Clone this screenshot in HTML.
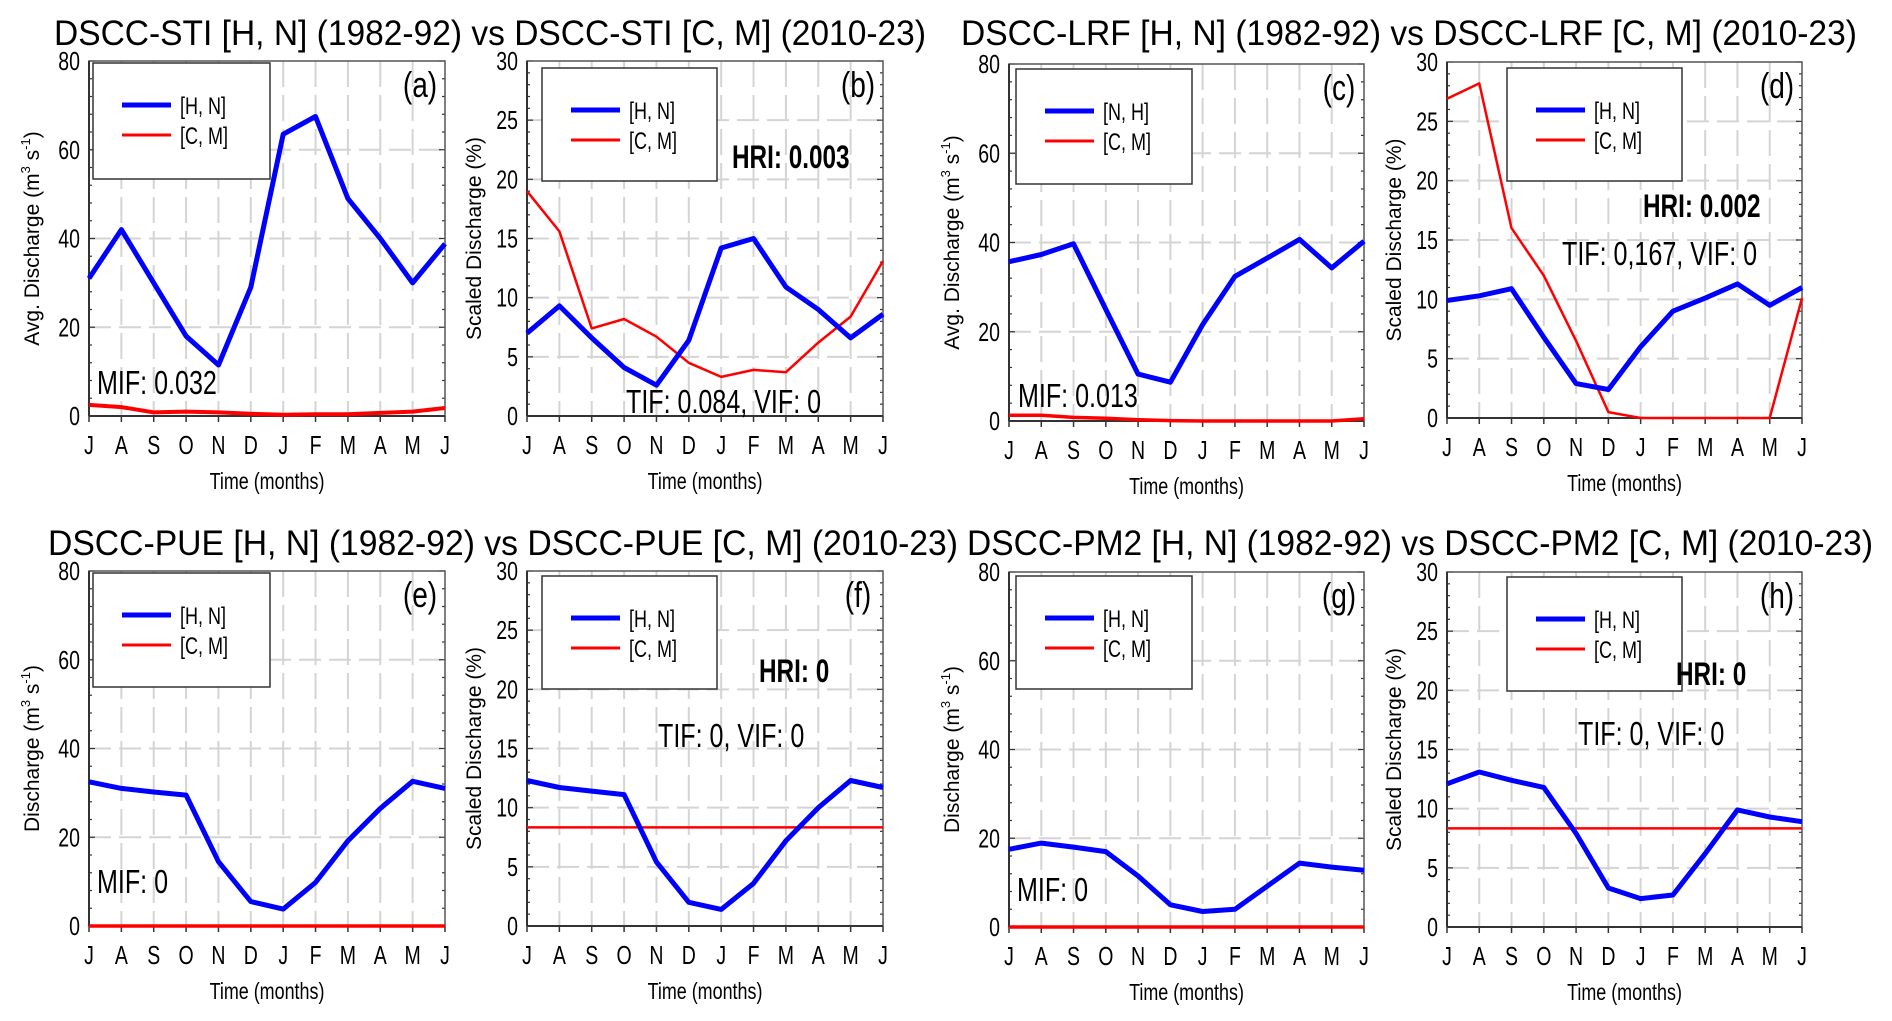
<!DOCTYPE html>
<html><head><meta charset="utf-8">
<style>
html,body{margin:0;padding:0;background:#fff;}
svg{display:block;font-family:"Liberation Sans",Arial,sans-serif;}
</style></head>
<body>
<svg id="fig" width="1892" height="1021" viewBox="0 0 1892 1021" xmlns="http://www.w3.org/2000/svg"></svg>
<script>
const months = ["J","A","S","O","N","D","J","F","M","A","M","J"];
const hnA = [31,42,30,18,11.5,29,63.5,67.5,49,40,30,38.8];
const cmA = [2.5,2,0.8,1,0.8,0.5,0.3,0.4,0.4,0.7,1,1.8];
const hnB = [7,9.3,6.6,4.1,2.6,6.4,14.2,15,10.9,9,6.6,8.6];
const cmB = [19,15.6,7.4,8.2,6.7,4.5,3.3,3.9,3.7,6.2,8.4,13.1];
const hnC = [35.7,37.3,39.7,25,10.5,8.7,21.6,32.4,36.5,40.7,34.3,40.3];
const cmC = [1.3,1.3,0.8,0.6,0.3,0.1,0,0,0,0,0,0.5];
const hnD = [9.9,10.3,10.9,6.8,2.9,2.4,6,9,10.1,11.3,9.5,11];
const cmD = [26.9,28.2,16,12,6.5,0.5,0,0,0,0,0,10.1];
const hnE = [32.5,31,30.2,29.5,14.5,5.5,3.8,9.8,19.2,26.5,32.6,31];
const cmE = [0,0,0,0,0,0,0,0,0,0,0,0];
const hnF = [12.3,11.7,11.4,11.1,5.4,2,1.4,3.6,7.2,10,12.3,11.7];
const cmF = [8.33,8.33,8.33,8.33,8.33,8.33,8.33,8.33,8.33,8.33,8.33,8.33];
const hnG = [17.5,18.9,18,17,11.5,5,3.5,4,9.2,14.4,13.5,12.8];
const cmG = [0,0,0,0,0,0,0,0,0,0,0,0];
const hnH = [12.1,13.1,12.4,11.8,7.9,3.3,2.4,2.7,6.2,9.9,9.3,8.9];
const cmH = [8.33,8.33,8.33,8.33,8.33,8.33,8.33,8.33,8.33,8.33,8.33,8.33];
const ticksDischarge = [0,20,40,60,80];
const ticksScaled = [0,5,10,15,20,25,30];

const NS="http://www.w3.org/2000/svg";
const svg=document.getElementById('fig');
function mk(tag,attrs,parent){const e=document.createElementNS(NS,tag);for(const k in attrs)e.setAttribute(k,attrs[k]);(parent||svg).appendChild(e);return e;}
function txt(str,x,y,size,opts,parent){
  opts=opts||{};
  const g=mk('g',{transform:`translate(${x},${y}) scale(${opts.sx||0.8},1)`},parent);
  const t=mk('text',{x:0,y:0,'font-size':size,'text-anchor':opts.anchor||'start',fill:opts.fill||'#000','font-weight':opts.bold?'bold':'normal'},g);
  t.textContent=str;return t;
}

const panels=[
 {id:'a',L:89,R:445,T:61,B:416,hn:hnA,cm:cmA,max:80,ticks:ticksDischarge,ylab:'Avg. Discharge (m',leg:[93,63,270,179],names:['[H, N]','[C, M]'],ann:[['MIF: 0.032',97,394,false]],cmw:4},
 {id:'b',L:527,R:883,T:61,B:416,hn:hnB,cm:cmB,max:30,ticks:ticksScaled,ylab:'Scaled Discharge (%)',leg:[542,68,717,181],names:['[H, N]','[C, M]'],ann:[['HRI: 0.003',732,168,true],['TIF: 0.084, VIF: 0',626,413,false]],cmw:2.5},
 {id:'c',L:1009,R:1364,T:64,B:421,hn:hnC,cm:cmC,max:80,ticks:ticksDischarge,ylab:'Avg. Discharge (m',leg:[1016,69,1192,184],names:['[N, H]','[C, M]'],ann:[['MIF: 0.013',1018,407,false]],cmw:3.5},
 {id:'d',L:1447,R:1802,T:62,B:418,hn:hnD,cm:cmD,max:30,ticks:ticksScaled,ylab:'Scaled Discharge (%)',leg:[1507,68,1682,181],names:['[H, N]','[C, M]'],ann:[['HRI: 0.002',1643,217,true],['TIF: 0,167, VIF: 0',1562,265,false]],cmw:2.5},
 {id:'e',L:89,R:445,T:571,B:926,hn:hnE,cm:cmE,max:80,ticks:ticksDischarge,ylab:'Discharge (m',leg:[93,573,270,687],names:['[H, N]','[C, M]'],ann:[['MIF: 0',97,893,false]],cmw:3.5},
 {id:'f',L:527,R:883,T:571,B:926,hn:hnF,cm:cmF,max:30,ticks:ticksScaled,ylab:'Scaled Discharge (%)',leg:[542,576,717,689],names:['[H, N]','[C, M]'],ann:[['HRI: 0',759,682,true],['TIF: 0, VIF: 0',658,747,false]],cmw:2.5},
 {id:'g',L:1009,R:1364,T:572,B:927,hn:hnG,cm:cmG,max:80,ticks:ticksDischarge,ylab:'Discharge (m',leg:[1016,576,1192,689],names:['[H, N]','[C, M]'],ann:[['MIF: 0',1017,901,false]],cmw:3.5},
 {id:'h',L:1447,R:1802,T:572,B:927,hn:hnH,cm:cmH,max:30,ticks:ticksScaled,ylab:'Scaled Discharge (%)',leg:[1507,577,1682,691],names:['[H, N]','[C, M]'],ann:[['HRI: 0',1676,685,true],['TIF: 0, VIF: 0',1578,745,false]],cmw:2.5},
];

const titles=[
 ['DSCC-STI [H, N] (1982-92) vs DSCC-STI [C, M] (2010-23)',54,45,872],
 ['DSCC-LRF [H, N] (1982-92) vs DSCC-LRF [C, M] (2010-23)',961,45,896],
 ['DSCC-PUE [H, N] (1982-92) vs DSCC-PUE [C, M] (2010-23)',48,555,910],
 ['DSCC-PM2 [H, N] (1982-92) vs DSCC-PM2 [C, M] (2010-23)',967,555,906],
];
titles.forEach(t=>{
  const e=mk('text',{x:t[1],y:t[2],'font-size':35,textLength:t[3],lengthAdjust:'spacingAndGlyphs',fill:'#000'});
  
  
  e.textContent=t[0];
});

panels.forEach(p=>{
  const g=mk('g',{});
  
  
  const xs=i=>p.L+(p.R-p.L)*i/11;
  const ys=v=>p.B-(p.B-p.T)*v/p.max;
  for(let i=1;i<11;i++){
    const l=mk('line',{x1:xs(i),x2:xs(i),y1:p.T,y2:p.B,stroke:'#d4d4d4','stroke-width':2,'stroke-dasharray':'26,8'},g);
    
    
  }
  p.ticks.forEach(v=>{
    if(v>0&&v<p.max){
      const l=mk('line',{x1:p.L,x2:p.R,y1:ys(v),y2:ys(v),stroke:'#d4d4d4','stroke-width':2,'stroke-dasharray':'22,8'},g);
      
      
    }
  });
  const step=p.ticks[1]-p.ticks[0];
  for(let k=0;k<=p.max;k+=step/5){
    const y=ys(k);
    const maj=Math.abs(k/step-Math.round(k/step))<1e-6;
    mk('line',{x1:p.L,x2:p.L+(maj?6:3),y1:y,y2:y,stroke:'#333','stroke-width':1.2},g);
    mk('line',{x1:p.R,x2:p.R-(maj?6:3),y1:y,y2:y,stroke:'#333','stroke-width':1.2},g);
  }
  for(let i=0;i<12;i++){mk('line',{x1:xs(i),x2:xs(i),y1:p.B,y2:p.B+6,stroke:'#333','stroke-width':1.5},g);}
  const f=mk('rect',{x:p.L,y:p.T,width:p.R-p.L,height:p.B-p.T,fill:'none',stroke:'#555','stroke-width':1.5},g);
  
  
  mk('line',{x1:p.L,x2:p.R,y1:p.B,y2:p.B,stroke:'#333','stroke-width':2},g);
  mk('line',{x1:p.L,x2:p.L,y1:p.T,y2:p.B,stroke:'#333','stroke-width':2},g);
  p.ticks.forEach(v=>{
    const t=txt(String(v),p.L-9,ys(v)+9,26,{anchor:'end',sx:0.75},g);
    
    
  });
  const xl=p.B+38;
  months.forEach((m,i)=>{
    const t=txt(m,xs(i),xl,26,{anchor:'middle',sx:0.75},g);
    
    
  });
  const xt=txt('Time (months)',(p.L+p.R)/2,p.B+73,23,{anchor:'middle',sx:0.78},g);
  
  
  const yx=p.L-(p.max===80?50:46), yc=(p.T+p.B)/2;
  const yg=mk('g',{transform:`translate(${yx},${yc}) rotate(-90)`},g);
  
  
  const yt=mk('text',{x:0,y:0,'font-size':21,'text-anchor':'middle',fill:'#000'},yg);
  if(p.max===80){
    yt.appendChild(document.createTextNode(p.ylab));
    const s1=mk('tspan',{'font-size':13,dy:-9},yt);s1.textContent='3';
    const s2=mk('tspan',{dy:9},yt);s2.textContent=' s';
    const s3=mk('tspan',{'font-size':13,dy:-9},yt);s3.textContent='-1';
    const s4=mk('tspan',{dy:9},yt);s4.textContent=')';
  } else yt.textContent=p.ylab;
  const path=(arr)=>arr.map((v,i)=>(i?'L':'M')+xs(i).toFixed(1)+','+ys(v).toFixed(1)).join(' ');
  const cl=mk('path',{d:path(p.cm),fill:'none',stroke:'#ff0000','stroke-width':p.cmw,'stroke-linejoin':'round'},g);
  
  
  const hl=mk('path',{d:path(p.hn),fill:'none',stroke:'#0000ff','stroke-width':5,'stroke-linejoin':'round'},g);
  
  
  const [lx1,ly1,lx2,ly2]=p.leg;
  const lg=mk('g',{},g);
  
  
  mk('rect',{x:lx1,y:ly1,width:lx2-lx1,height:ly2-ly1,fill:'#fff',stroke:'#333','stroke-width':1.5},lg);
  const la=ly1+42, lb=ly1+72;
  const e1=mk('line',{x1:lx1+29,x2:lx1+78,y1:la,y2:la,stroke:'#0000ff','stroke-width':5},lg);
  
  
  txt(p.names[0],lx1+87,la+9,24,{sx:0.75},lg);
  const e2=mk('line',{x1:lx1+29,x2:lx1+78,y1:lb,y2:lb,stroke:'#ff0000','stroke-width':3},lg);
  
  
  txt(p.names[1],lx1+87,lb+9,24,{sx:0.75},lg);
  const pl=txt('('+p.id+')',p.R-25,p.T+36,36,{anchor:'middle',sx:0.78},g);
  
  
  p.ann.forEach(a=>{
    const t=txt(a[0],a[1],a[2],a[3]?32:33,{bold:a[3],sx:a[3]?0.76:0.76},g);
    
    
  });
});
</script>
</body></html>
